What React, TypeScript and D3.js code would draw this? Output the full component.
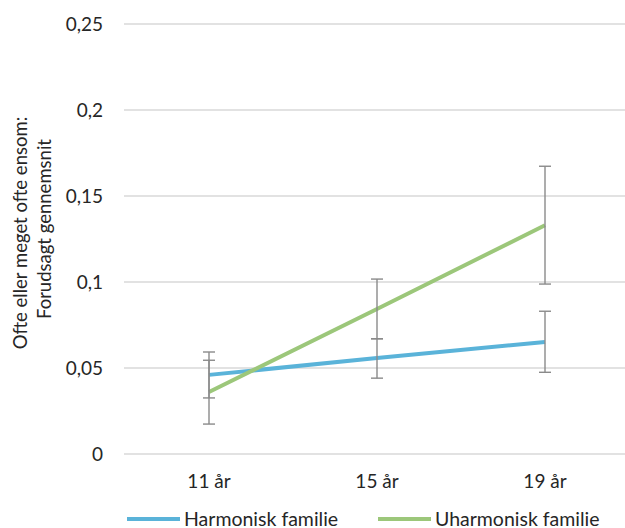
import React from "react";
import * as d3 from "d3";

const categories = ["11 år", "15 år", "19 år"];
const harmonisk = [0.046, 0.0558, 0.0651];
const harmoniskLow = [0.0326, 0.0441, 0.0475];
const harmoniskHigh = [0.0545, 0.067, 0.083];
const uharmonisk = [0.036, 0.0843, 0.133];
const uharmoniskLow = [0.0174, 0.067, 0.0988];
const uharmoniskHigh = [0.0593, 0.1017, 0.1673];
const yTicks = [0, 0.05, 0.1, 0.15, 0.2, 0.25];
const yTickLabels = ["0", "0,05", "0,1", "0,15", "0,2", "0,25"];
const seriesNames = ["Harmonisk familie", "Uharmonisk familie"];

const W = 625;
const H = 528;
const FONT = "Lato, 'Open Sans', sans-serif";
const FS = 19;
const BLUE = "#5ab3d9";
const GREEN = "#9cc77a";
const ERR = "#8a8a8a";
const TXT = "#262626";

export default function App() {
  const x = d3.scaleBand<string>().domain(categories).range([125, 629]);
  const y = d3.scaleLinear().domain([0, 0.25]).range([454, 24]);
  const cx = (c: string) => (x(c) ?? 0) + x.bandwidth() / 2;

  const line = d3
    .line<number>()
    .x((_, i) => cx(categories[i]))
    .y((d) => y(d));

  const series = [
    { name: seriesNames[0], vals: harmonisk, lo: harmoniskLow, hi: harmoniskHigh, color: BLUE },
    { name: seriesNames[1], vals: uharmonisk, lo: uharmoniskLow, hi: uharmoniskHigh, color: GREEN },
  ];

  const cap = 6;

  return (
    <svg
      width={W}
      height={H}
      style={{ position: "absolute", left: 0, top: 0, background: "#fff" }}
    >
      {yTicks.map((t, i) => (
        <g key={i}>
          <line x1={124} x2={629} y1={y(t)} y2={y(t)} stroke="#d9d9d9" strokeWidth={1.3} />
          <text
            x={103}
            y={y(t) + 6.5}
            textAnchor="end"
            fontFamily={FONT}
            fontSize={FS}
            fill={TXT}
          >
            {yTickLabels[i]}
          </text>
        </g>
      ))}
      {categories.map((c) => (
        <text
          key={c}
          x={cx(c)}
          y={488}
          textAnchor="middle"
          fontFamily={FONT}
          fontSize={FS}
          fill={TXT}
        >
          {c}
        </text>
      ))}
      <text
        transform="translate(27,233) rotate(-90)"
        textAnchor="middle"
        fontFamily={FONT}
        fontSize={FS - 0.5}
        fill={TXT}
      >
        Ofte eller meget ofte ensom:
      </text>
      <text
        transform="translate(51,229) rotate(-90)"
        textAnchor="middle"
        fontFamily={FONT}
        fontSize={FS - 0.5}
        fill={TXT}
      >
        Forudsagt gennemsnit
      </text>

      {series.map((s) => (
        <path key={s.name} d={line(s.vals) ?? ""} fill="none" stroke={s.color} strokeWidth={4} />
      ))}
      {series.map((s) =>
        categories.map((c, i) => (
          <g key={s.name + c} stroke={ERR} strokeWidth={1.4}>
            <line x1={cx(c)} x2={cx(c)} y1={y(s.hi[i])} y2={y(s.lo[i])} />
            <line x1={cx(c) - cap} x2={cx(c) + cap} y1={y(s.hi[i])} y2={y(s.hi[i])} />
            <line x1={cx(c) - cap} x2={cx(c) + cap} y1={y(s.lo[i])} y2={y(s.lo[i])} />
          </g>
        ))
      )}

      {series.map((s, i) => {
        const lx = i === 0 ? 127 : 378;
        return (
          <g key={"leg" + s.name}>
            <line x1={lx} x2={lx + 53} y1={519} y2={519} stroke={s.color} strokeWidth={4} />
            <text
              x={lx + 57}
              y={525.5}
              fontFamily={FONT}
              fontSize={FS + 0.5}
              fill={TXT}
            >
              {s.name}
            </text>
          </g>
        );
      })}
    </svg>
  );
}
